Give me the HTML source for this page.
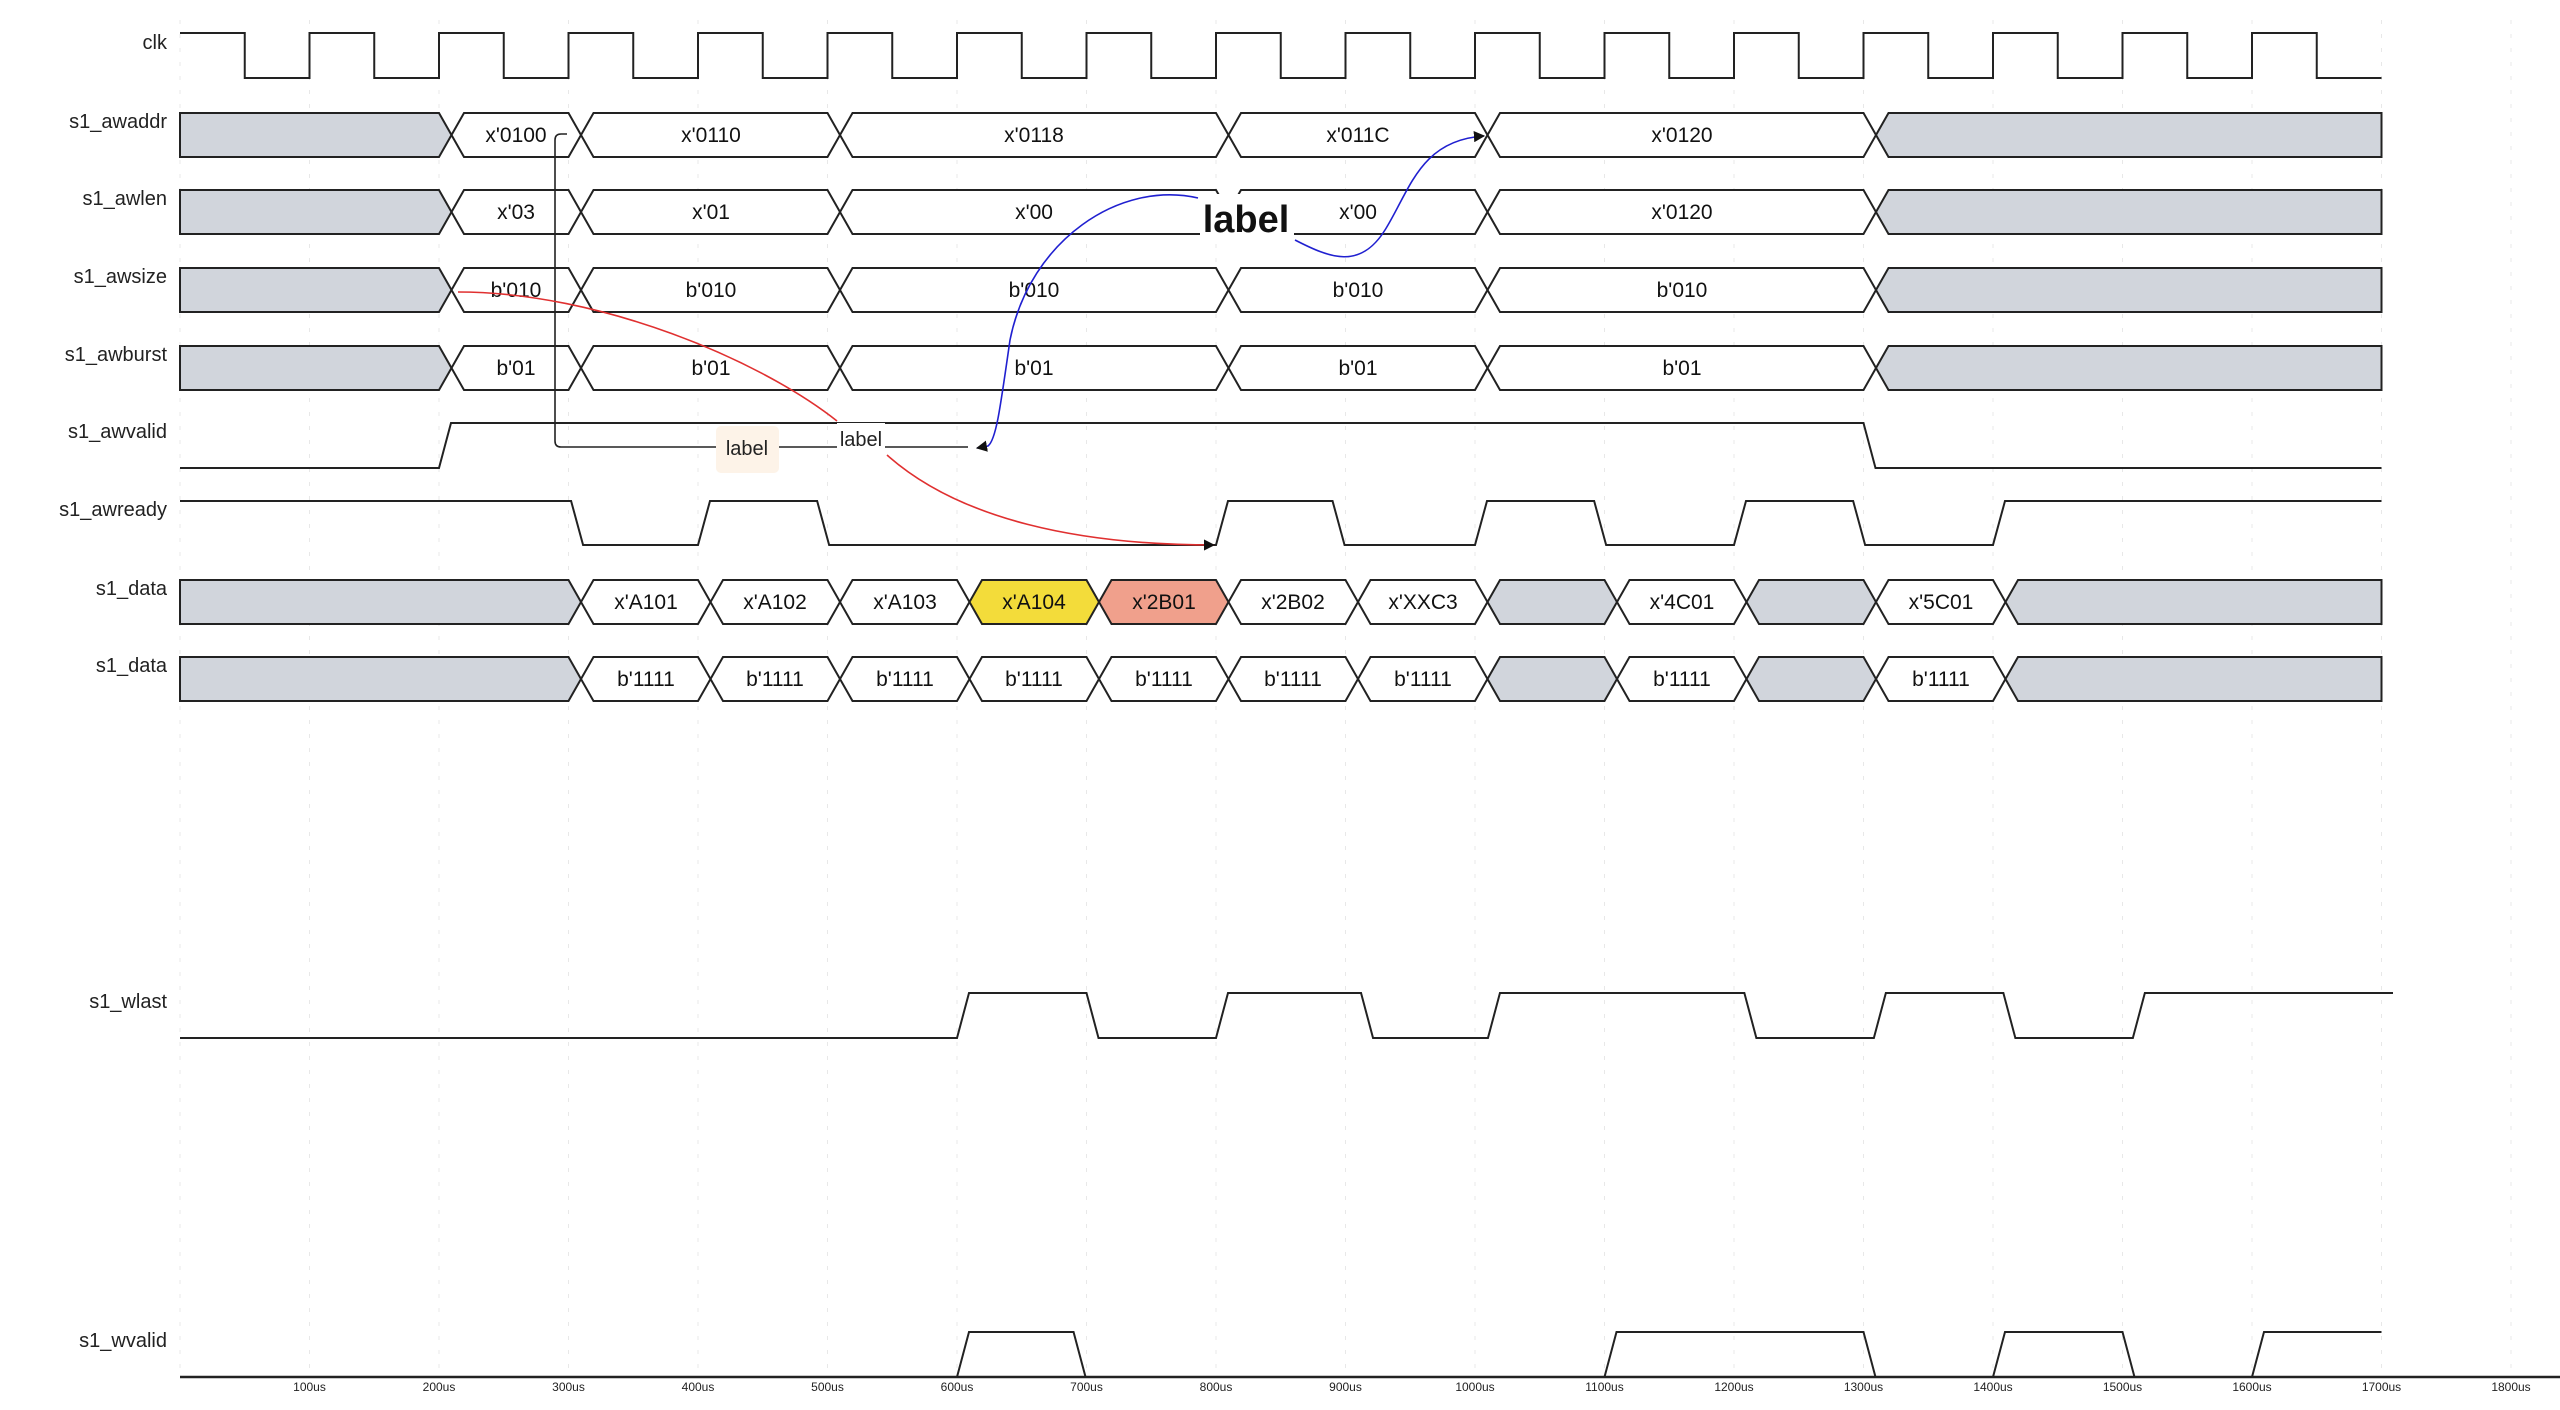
<!DOCTYPE html>
<html><head><meta charset="utf-8"><style>
html,body{margin:0;padding:0;background:#fff;}
svg{display:block;font-family:"Liberation Sans",sans-serif;}
</style></head><body>
<svg id="s" width="2560" height="1410" viewBox="0 0 2560 1410" xmlns="http://www.w3.org/2000/svg">
<defs>
<marker id="ah" viewBox="0 0 10 10" refX="9" refY="5" markerWidth="7" markerHeight="7" orient="auto-start-reverse"><path d="M0 0 L10 5 L0 10 z" fill="#111"/></marker>
</defs>
<g id="grid"></g>
<g id="wave"></g>
<g font-size="20" fill="#222" text-anchor="end">
<text x="167" y="49">clk</text>
<text x="167" y="128">s1_awaddr</text>
<text x="167" y="205">s1_awlen</text>
<text x="167" y="283">s1_awsize</text>
<text x="167" y="361">s1_awburst</text>
<text x="167" y="438">s1_awvalid</text>
<text x="167" y="516">s1_awready</text>
<text x="167" y="595">s1_data</text>
<text x="167" y="672">s1_data</text>
<text x="167" y="1008">s1_wlast</text>
<text x="167" y="1347">s1_wvalid</text>
</g>
<g font-size="21" fill="#111" text-anchor="middle">
<text x="516" y="142">x'0100</text><text x="711" y="142">x'0110</text><text x="1034" y="142">x'0118</text><text x="1358" y="142">x'011C</text><text x="1682" y="142">x'0120</text>
<text x="516" y="219">x'03</text><text x="711" y="219">x'01</text><text x="1034" y="219">x'00</text><text x="1358" y="219">x'00</text><text x="1682" y="219">x'0120</text>
<text x="516" y="297">b'010</text><text x="711" y="297">b'010</text><text x="1034" y="297">b'010</text><text x="1358" y="297">b'010</text><text x="1682" y="297">b'010</text>
<text x="516" y="375">b'01</text><text x="711" y="375">b'01</text><text x="1034" y="375">b'01</text><text x="1358" y="375">b'01</text><text x="1682" y="375">b'01</text>
<text x="646" y="609">x'A101</text><text x="775" y="609">x'A102</text><text x="905" y="609">x'A103</text><text x="1034" y="609">x'A104</text><text x="1164" y="609">x'2B01</text><text x="1293" y="609">x'2B02</text><text x="1423" y="609">x'XXC3</text><text x="1682" y="609">x'4C01</text><text x="1941" y="609">x'5C01</text>
<text x="646" y="686">b'1111</text><text x="775" y="686">b'1111</text><text x="905" y="686">b'1111</text><text x="1034" y="686">b'1111</text><text x="1164" y="686">b'1111</text><text x="1293" y="686">b'1111</text><text x="1423" y="686">b'1111</text><text x="1682" y="686">b'1111</text><text x="1941" y="686">b'1111</text>
</g>
<g font-size="12" fill="#222" text-anchor="middle">
<text x="309.5" y="1391">100us</text><text x="439" y="1391">200us</text><text x="568.5" y="1391">300us</text><text x="698" y="1391">400us</text><text x="827.5" y="1391">500us</text><text x="957" y="1391">600us</text><text x="1086.5" y="1391">700us</text><text x="1216" y="1391">800us</text><text x="1345.5" y="1391">900us</text><text x="1475" y="1391">1000us</text><text x="1604.5" y="1391">1100us</text><text x="1734" y="1391">1200us</text><text x="1863.5" y="1391">1300us</text><text x="1993" y="1391">1400us</text><text x="2122.5" y="1391">1500us</text><text x="2252" y="1391">1600us</text><text x="2381.5" y="1391">1700us</text><text x="2511" y="1391">1800us</text>
</g>
<path d="M567 134 H561 Q555 134 555 140 V441 Q555 447 561 447 H968" fill="none" stroke="#222" stroke-width="1.6"/>
<path d="M458 292 C600 292 760 360 837 421" fill="none" stroke="#e03030" stroke-width="1.6"/>
<path d="M887 455 C960 520 1080 545 1214 545" fill="none" stroke="#e03030" stroke-width="1.6" marker-end="url(#ah)"/>
<path d="M1198 198 C1120 180 1030 240 1010 340 C1000 410 996 440 988 446 L977 448" fill="none" stroke="#2020d0" stroke-width="1.6" marker-end="url(#ah)"/>
<path d="M1295 240 C1330 258 1360 270 1385 230 C1410 190 1420 140 1484 136" fill="none" stroke="#2020d0" stroke-width="1.6" marker-end="url(#ah)"/>
<rect x="716" y="426" width="63" height="47" rx="5" fill="#fdf3e8"/>
<text x="747" y="455" font-size="20" fill="#222" text-anchor="middle">label</text>
<rect x="837" y="423" width="48" height="32" fill="#fff"/>
<text x="861" y="446" font-size="20" fill="#222" text-anchor="middle">label</text>
<rect x="1200" y="194" width="94" height="46" fill="#fff"/>
<text x="1246" y="232" font-size="38" font-weight="bold" fill="#111" text-anchor="middle">label</text>
</svg>
<script>
(function(){
var NS="http://www.w3.org/2000/svg";
function X(t){return 180+1.295*t;}
var grid=document.getElementById('grid'),wave=document.getElementById('wave');
function el(p,tag,a){var e=document.createElementNS(NS,tag);for(var k in a)e.setAttribute(k,a[k]);p.appendChild(e);return e;}
for(var t=0;t<=1800;t+=100){el(grid,'line',{x1:X(t),y1:20,x2:X(t),y2:1377,stroke:'#e8e8e8','stroke-width':1,'stroke-dasharray':'4 10'});}
el(grid,'line',{x1:180,y1:1377,x2:2560,y2:1377,stroke:'#222','stroke-width':2.5});
var d="M180 33";for(var i=0;i<17;i++){var a=X(i*100+50),b=X(i*100+100);d+=" H"+a+" V78 H"+b+(i<16?" V33":"");}
el(wave,'path',{d:d,fill:'none',stroke:'#222','stroke-width':2});
function bus(T,segs){var H=44,M=T+22,B=T+H;segs.forEach(function(s){var a=s[0],b=s[1],f=s[2];var pts=[];
 if(a==0){pts.push([180,B],[180,T]);}else{pts.push([X(a)+12.5,M],[X(a)+25,T]);}
 if(b==1700){pts.push([X(b),T],[X(b),B]);}else{pts.push([X(b),T],[X(b)+12.5,M],[X(b),B]);}
 if(a!=0)pts.push([X(a)+25,B]);
 el(wave,'polygon',{points:pts.map(function(p){return p.join(',');}).join(' '),fill:f,stroke:'#222','stroke-width':2,'stroke-linejoin':'miter'});});}
var G='#d1d5dc',W='#fff';
var aw=[[0,200,G],[200,300,W],[300,500,W],[500,800,W],[800,1000,W],[1000,1300,W],[1300,1700,G]];
[113,190,268,346].forEach(function(T){bus(T,aw);});
var ds=[[0,300,G],[300,400,W],[400,500,W],[500,600,W],[600,700,'#f3dc3a'],[700,800,'#f0a08c'],[800,900,W],[900,1000,W],[1000,1100,G],[1100,1200,W],[1200,1300,G],[1300,1400,W],[1400,1700,G]];
var ds2=ds.map(function(s){return [s[0],s[1],(s[2]==G?G:W)];});
bus(580,ds);bus(657,ds2);
function dig(T,B,init,edges,end){var y=init?T:B;var d="M180 "+y;edges.forEach(function(t){var x=X(t);d+=" H"+x;y=(y==T?B:T);d+=" L"+(x+12)+" "+y;});d+=" H"+(end||X(1700));el(wave,'path',{d:d,fill:'none',stroke:'#222','stroke-width':2});}
dig(423,468,0,[200,1300]);
dig(501,545,1,[302,400,492,800,890,1000,1092,1200,1292,1400]);
dig(993,1038,0,[600,700,800,912,1010,1208,1308,1408,1508],2393);
dig(1332,1377,0,[600,690,1100,1300,1400,1500,1600]);
})();
</script>
</body></html>
